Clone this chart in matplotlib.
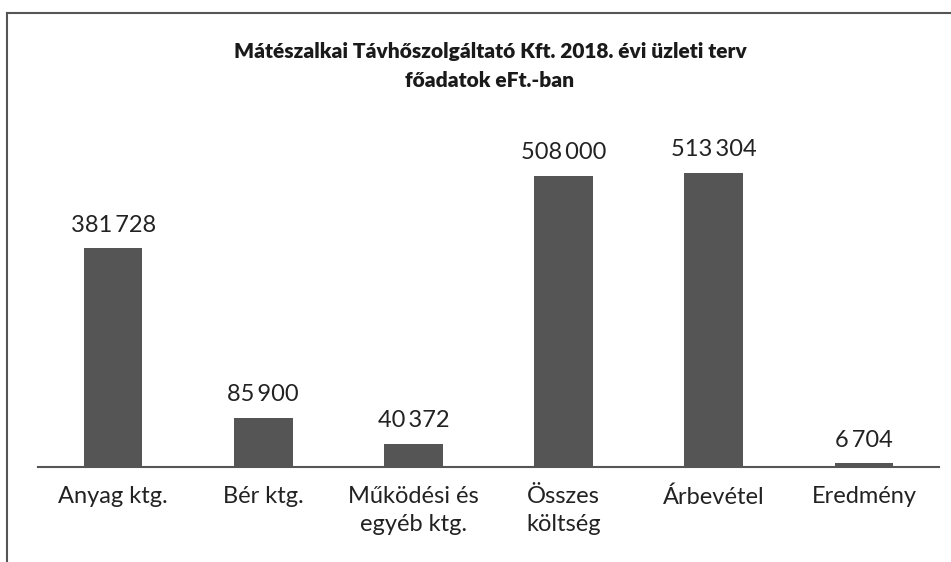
import matplotlib
matplotlib.use("Agg")
import matplotlib.pyplot as plt
from matplotlib.lines import Line2D

categories = ["Anyag ktg.", "Bér ktg.", "Működési és\negyéb ktg.", "Összes\nköltség", "Árbevétel", "Eredmény"]
values = [381728, 85900, 40372, 508000, 513304, 6704]
value_labels = ["381\u2009728", "85\u2009900", "40\u2009372", "508\u2009000", "513\u2009304", "6\u2009704"]
title = "Mátészalkai Távhőszolgáltató Kft. 2018. évi üzleti terv\nfőadatok eFt.-ban"

plt.rcParams['font.family'] = ['Lato', 'DejaVu Sans']

W, H = 951, 562
fig = plt.figure(figsize=(W / 100, H / 100), dpi=100)
fig.patch.set_facecolor("white")

ax_left, ax_right = 38 / W, 939 / W
ax_bottom = (H - 467) / H
ax_top = (H - 123) / H
ax = fig.add_axes([ax_left, ax_bottom, ax_right - ax_left, ax_top - ax_bottom])

x = list(range(len(categories)))
ax.bar(x, values, width=0.39, color="#555555", zorder=2)
ax.set_xlim(-0.5, len(categories) - 0.5)
ax.set_ylim(0, 600000)

for xi, v, lab in zip(x, values, value_labels):
    ax.annotate(lab, (xi, v), xytext=(0, 9), textcoords="offset points",
                ha="center", va="bottom", fontsize=17, color="#222222")

for s in ["top", "right", "left"]:
    ax.spines[s].set_visible(False)
ax.spines["bottom"].set_color("#555555")
ax.spines["bottom"].set_linewidth(1.5)
ax.set_yticks([])
ax.set_xticks(x)
ax.set_xticklabels(categories, fontsize=17, color="#222222", linespacing=1.4)
ax.tick_params(axis="x", length=0, pad=14)
ax.set_facecolor("none")

fig.text(490 / W, 1 - 66 / H, title, ha="center", va="center", fontsize=15,
         fontweight="heavy", color="#1a1a1a", linespacing=1.65)

# outer frame (cropped on the right and bottom)
fig.add_artist(Line2D([7 / W, 1.0], [1 - 13 / H, 1 - 13 / H], color="#555555", lw=1.5, transform=fig.transFigure))
fig.add_artist(Line2D([7 / W, 7 / W], [1 - 13 / H, 0.0], color="#555555", lw=1.5, transform=fig.transFigure))

fig.savefig("out.png", dpi=100, facecolor="white")
